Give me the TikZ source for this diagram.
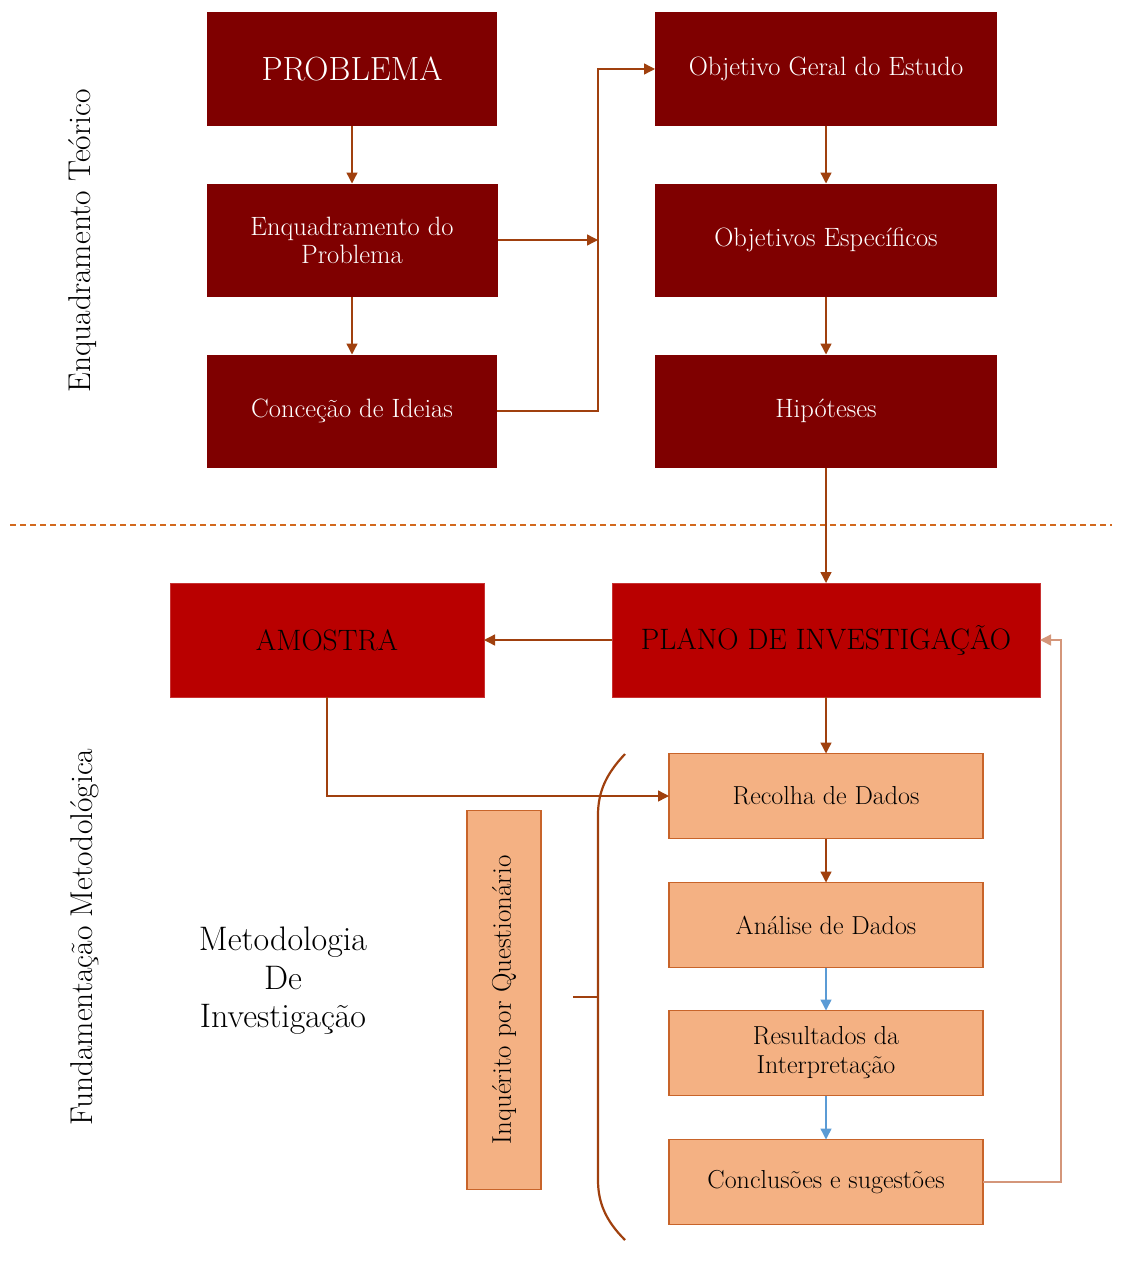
\documentclass[tikz,border=0pt]{standalone}
\usetikzlibrary{arrows.meta}
\definecolor{boxmaroon}{HTML}{7F0000}
\definecolor{boxred}{HTML}{B90000}
\definecolor{boxpeach}{HTML}{F4B183}
\definecolor{peachedge}{HTML}{C8642A}
\definecolor{arrowbrown}{HTML}{A0400E}
\definecolor{returntan}{HTML}{D4967A}
\definecolor{linkblue}{HTML}{5B9BD5}
\definecolor{dashorange}{HTML}{D2691E}
\begin{document}
\begin{tikzpicture}[x=1pt,y=-1pt,
 darkbox/.style={rectangle,fill=boxmaroon,text=white,inner sep=0pt,outer sep=0pt,
   minimum height=113pt,align=center,font=\fontsize{26.5}{28}\selectfont},
 redbox/.style={rectangle,fill=boxred,draw=boxred!80!white,text=black,inner sep=0pt,outer sep=0pt,
   minimum height=114pt,align=center,font=\fontsize{29.5}{32}\selectfont},
 peachbox/.style={rectangle,fill=boxpeach,draw=peachedge,line width=1.5pt,inner sep=0pt,outer sep=0pt,
   minimum width=314pt,minimum height=85pt,align=center,font=\fontsize{26}{29}\selectfont},
 link/.style={draw=arrowbrown,line width=1.4pt,-{Triangle[width=11pt,length=11pt]}},
 bluelink/.style={draw=linkblue,line width=1.4pt,-{Triangle[width=11pt,length=11pt]}},
 sidelab/.style={rotate=90,font=\fontsize{31.5}{34}\selectfont}
]
 \useasboundingbox (0,0) rectangle (1128,1263);
 % upper part
 \node[darkbox,minimum width=290pt,font=\fontsize{33.5}{36}\selectfont] (prob) at (352,69) {PROBLEMA};
 \node[darkbox,minimum width=291pt] (enq) at (352,240) {Enquadramento do\\Problema};
 \node[darkbox,minimum width=290pt] (ideias) at (352,411) {Conceção de Ideias};
 \node[darkbox,minimum width=342pt] (objg) at (826,69) {Objetivo Geral do Estudo};
 \node[darkbox,minimum width=342pt] (objesp) at (826,240) {Objetivos Específicos};
 \node[darkbox,minimum width=342pt] (hip) at (826,411) {Hipóteses};
 \coordinate (jtop) at (598,69);
 \coordinate (jmid) at (598,240);
 \coordinate (jbot) at (598,411);
 \draw[link] (prob) -- (enq);
 \draw[link] (enq) -- (ideias);
 \draw[link] (enq.east) -- (jmid);
 \draw[link] (ideias.east) -- (jbot) -- (jtop) -- (objg.west);
 \draw[link] (objg) -- (objesp);
 \draw[link] (objesp) -- (hip);
 \node[sidelab] (enqteo) at (83,241) {Enquadramento Teórico};
 % divider
 \draw[dashorange,line width=1.2pt,dash pattern=on 6pt off 4pt] (10,525) -- (1112,525);
 % lower part
 \node[redbox,minimum width=314pt] (amostra) at (327,640) {AMOSTRA};
 \node[redbox,minimum width=428pt] (plano) at (826,640) {PLANO DE INVESTIGAÇÃO};
 \node[peachbox] (recolha) at (826,796) {Recolha de Dados};
 \node[peachbox] (analise) at (826,925) {Análise de Dados};
 \node[peachbox] (result) at (826,1053) {Resultados da\\Interpretação};
 \node[peachbox] (concl) at (826,1182) {Conclusões e sugestões};
 \node[rectangle,fill=boxpeach,draw=peachedge,line width=1.5pt,minimum width=74pt,minimum height=379pt,
   inner sep=0pt] (inquer) at (504,1000) {};
 \node[rotate=90,font=\fontsize{27}{30}\selectfont] (inqlab) at (inquer.center) {Inquérito por Questionário};
 \node[align=center,font=\fontsize{34}{38.5}\selectfont] (metod) at (283,981) {Metodologia\\De\\Investigação};
 \node[sidelab] (fundmet) at (85,937) {Fundamentação Metodológica};
 \coordinate (ret) at (1061,1182);
 \draw[link] (hip) -- (plano);
 \draw[link] (plano.west) -- (amostra.east);
 \draw[link] (plano) -- (recolha);
 \draw[link] (amostra.south) |- (recolha.west);
 \draw[link] (recolha) -- (analise);
 \draw[bluelink] (analise) -- (result);
 \draw[bluelink] (result) -- (concl);
 \draw[link,draw=returntan] (concl.east) -- (ret) |- (plano.east);
 % brace
 \draw[arrowbrown,line width=2.2pt] (625,754) .. controls (606,774) and (598,792) .. (598,815)
   -- (598,1180) .. controls (598,1203) and (606,1221) .. (625,1240);
 \draw[arrowbrown,line width=2.2pt] (573,997) -- (598,997);
\end{tikzpicture}
\end{document}
